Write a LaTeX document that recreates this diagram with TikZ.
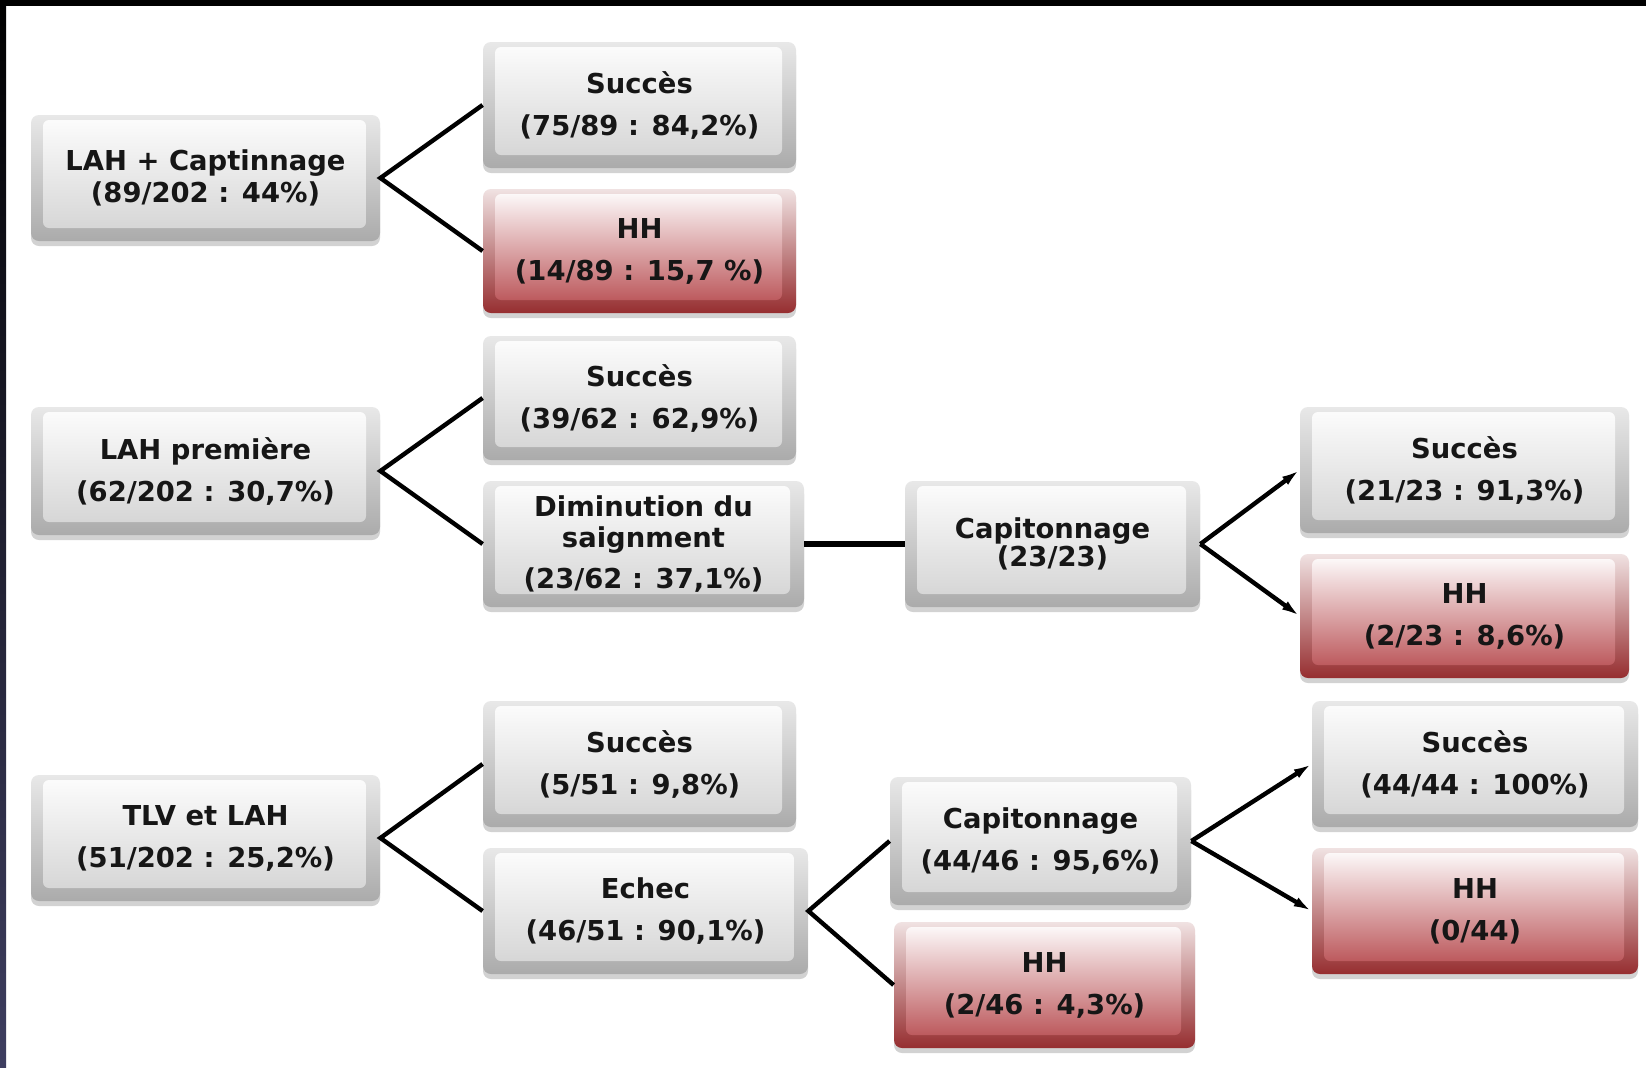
\documentclass[tikz,border=0pt]{standalone}
\usepackage{fontspec}
\setmainfont{DejaVu Sans}
\usetikzlibrary{shadows,arrows.meta}
\definecolor{gEdgeTop}{HTML}{E8E8E8}
\definecolor{gEdgeBot}{HTML}{ABABAB}
\definecolor{gFaceTop}{HTML}{FDFDFD}
\definecolor{gFaceBot}{HTML}{D2D2D2}
\definecolor{rEdgeTop}{HTML}{F0E2E2}
\definecolor{rEdgeBot}{HTML}{962E30}
\definecolor{rFaceMid}{HTML}{EACACB}
\definecolor{rFaceBot}{HTML}{B5474B}
\definecolor{txt}{HTML}{161616}
\definecolor{navy}{HTML}{3E3E60}
\begin{document}
\begin{tikzpicture}[x=0.5pt,y=-0.5pt,
  box/.style={rounded corners=4pt, inner sep=0pt, align=center,
    font=\fontsize{13.7}{21}\selectfont\bfseries, text=txt,
    drop shadow={shadow xshift=0pt,shadow yshift=-2.5pt,opacity=.25,fill=black!70}},
  gbox/.style={box, top color=gEdgeTop, bottom color=gEdgeBot,
    path picture={\shade[rounded corners=3pt, top color=gFaceTop, bottom color=gFaceBot]
      ([xshift=6pt,yshift=-2.5pt]path picture bounding box.north west) rectangle
      ([xshift=-7pt,yshift=6.5pt]path picture bounding box.south east);}},
  rbox/.style={box, top color=rEdgeTop, bottom color=rEdgeBot,
    path picture={\shade[rounded corners=3pt, top color=white, middle color=rFaceMid, bottom color=rFaceBot]
      ([xshift=6pt,yshift=-2.5pt]path picture bounding box.north west) rectangle
      ([xshift=-7pt,yshift=6.5pt]path picture bounding box.south east);}},
  tight/.style={font=\fontsize{13.7}{15.75}\selectfont\bfseries},
  tighter/.style={font=\fontsize{13.7}{14}\selectfont\bfseries},
  conn/.style={draw=black, line width=2.2pt, line join=miter},
  arr/.style={-{Latex[length=9pt,width=5pt]}}
]
\useasboundingbox (0,0) rectangle (1646,1067);
\fill[white] (0,0) rectangle (1646,1067);
\fill[black] (0,0) rectangle (1646,6);
\shade[top color=black, bottom color=navy] (0,0) rectangle (6,1067);

% Row 1
\node[gbox, tight, minimum width=174.5pt, minimum height=63pt] (A1) at (205.5,178) {LAH + Captinnage\\(89/202 : 44\%)};
\node[gbox, minimum width=156.5pt, minimum height=63pt] (S1) at (639.5,105) {Succès\\(75/89 : 84,2\%)};
\node[rbox, minimum width=156.5pt, minimum height=62pt] (H1) at (639.5,251) {HH\\(14/89 : 15,7 \%)};

% Row 2
\node[gbox, minimum width=174.5pt, minimum height=64pt] (A2) at (205.5,471) {LAH première\\(62/202 : 30,7\%)};
\node[gbox, minimum width=156.5pt, minimum height=62pt] (S2) at (639.5,398) {Succès\\(39/62 : 62,9\%)};
\node[gbox, tight, minimum width=160.5pt, minimum height=63pt] (D2) at (643.5,544) {Diminution du\\saignment\\[4.75pt](23/62 : 37,1\%)};
\node[gbox, tighter, minimum width=147.5pt, minimum height=63pt] (C2) at (1052.5,544) {Capitonnage\\(23/23)};
\node[gbox, minimum width=164.5pt, minimum height=63pt] (S2b) at (1464.5,470) {Succès\\(21/23 : 91,3\%)};
\node[rbox, minimum width=164.5pt, minimum height=62pt] (H2b) at (1464.5,616) {HH\\(2/23 : 8,6\%)};

% Row 3
\node[gbox, minimum width=174.5pt, minimum height=63pt] (A3) at (205.5,838) {TLV et LAH\\(51/202 : 25,2\%)};
\node[gbox, minimum width=156.5pt, minimum height=63pt] (S3) at (639.5,764) {Succès\\(5/51 : 9,8\%)};
\node[gbox, minimum width=162.5pt, minimum height=63pt] (E3) at (645.5,911) {Echec\\(46/51 : 90,1\%)};
\node[gbox, minimum width=150.5pt, minimum height=64pt] (C3) at (1040.5,841) {Capitonnage\\(44/46 : 95,6\%)};
\node[rbox, minimum width=150.5pt, minimum height=63pt] (H3) at (1044.5,985) {HH\\(2/46 : 4,3\%)};
\node[gbox, minimum width=163pt, minimum height=63pt] (S3b) at (1475,764) {Succès\\(44/44 : 100\%)};
\node[rbox, minimum width=163pt, minimum height=63pt] (H3b) at (1475,911) {HH\\(0/44)};

% Connectors
\draw[conn] (S1.west) -- (A1.east) -- (H1.west);
\draw[conn] (S2.west) -- (A2.east) -- (D2.west);
\draw[conn, line width=3.2pt] (D2.east) -- (C2.west);
\draw[conn, arr] (C2.east) -- (S2b.west);
\draw[conn, arr] (C2.east) -- (H2b.west);
\draw[conn] (S3.west) -- (A3.east) -- (E3.west);
\draw[conn] (C3.west) -- (E3.east) -- (H3.west);
\draw[conn, arr] (C3.east) -- (S3b.west);
\draw[conn, arr] (C3.east) -- (H3b.west);
\end{tikzpicture}
\end{document}
